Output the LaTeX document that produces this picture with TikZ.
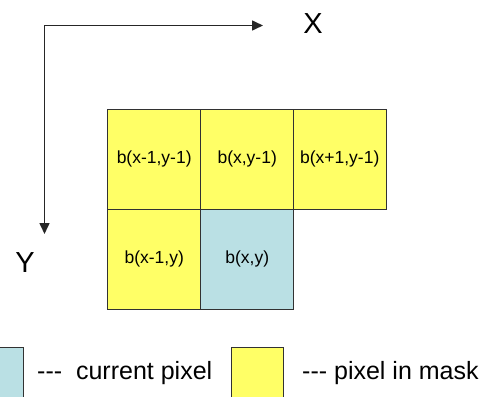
\documentclass[tikz,border=0pt]{standalone}
\usepackage{fontspec}
\setmainfont{Liberation Sans}
\usetikzlibrary{arrows.meta}
\definecolor{maskyellow}{RGB}{255,255,102}
\definecolor{curblue}{RGB}{186,224,228}
\definecolor{edge}{RGB}{50,50,50}
\tikzset{
  cell/.style={draw=edge, line width=1.4pt, minimum width=93pt, minimum height=100pt, inner sep=0pt, anchor=north west, font=\fontsize{17.5}{20}\selectfont},
  ymask/.style={cell, fill=maskyellow},
  cur/.style={cell, fill=curblue},
  axis/.style={line width=1.6pt, black!85, -{Triangle[length=11pt,width=10pt]}},
  axlabel/.style={font=\fontsize{29}{32}\selectfont, inner sep=0pt},
  legtext/.style={font=\fontsize{25}{28}\selectfont, anchor=west, inner sep=0pt},
  legbox/.style={draw=edge, line width=1.4pt, minimum width=52pt, minimum height=70pt, inner sep=0pt, anchor=north west}
}
\begin{document}
\begin{tikzpicture}[x=1pt,y=-1pt]
\useasboundingbox (0,0) rectangle (486,396);
\clip (0,0) rectangle (486,396);
\coordinate (o) at (44.5,25.5);
\coordinate (xe) at (263,25.5);
\coordinate (ye) at (44.5,234);
\draw[axis] (o) -- (xe);
\draw[axis] (o) -- (ye);
\node[axlabel] (xl) at (313,24) {X};
\node[axlabel] (yl) at (25,263) {Y};
\node[ymask] (c11) at (107,108.5) {b(x-1,y-1)};
\node[ymask] (c12) at (200,108.5) {b(x,y-1)};
\node[ymask] (c13) at (292.5,108.5) {b(x+1,y-1)};
\node[ymask] (c21) at (107,208.5) {b(x-1,y)};
\node[cur] (c22) at (200,208.5) {b(x,y)};
\node[legbox, fill=curblue] (lb) at (-29,347) {};
\node[legtext] (lt1) at (37,373) {-{}-{}-\ \ current pixel};
\node[legbox, fill=maskyellow] (ly) at (231,347) {};
\node[legtext] (lt2) at (302,373) {-{}-{}- pixel in mask};
\end{tikzpicture}
\end{document}
